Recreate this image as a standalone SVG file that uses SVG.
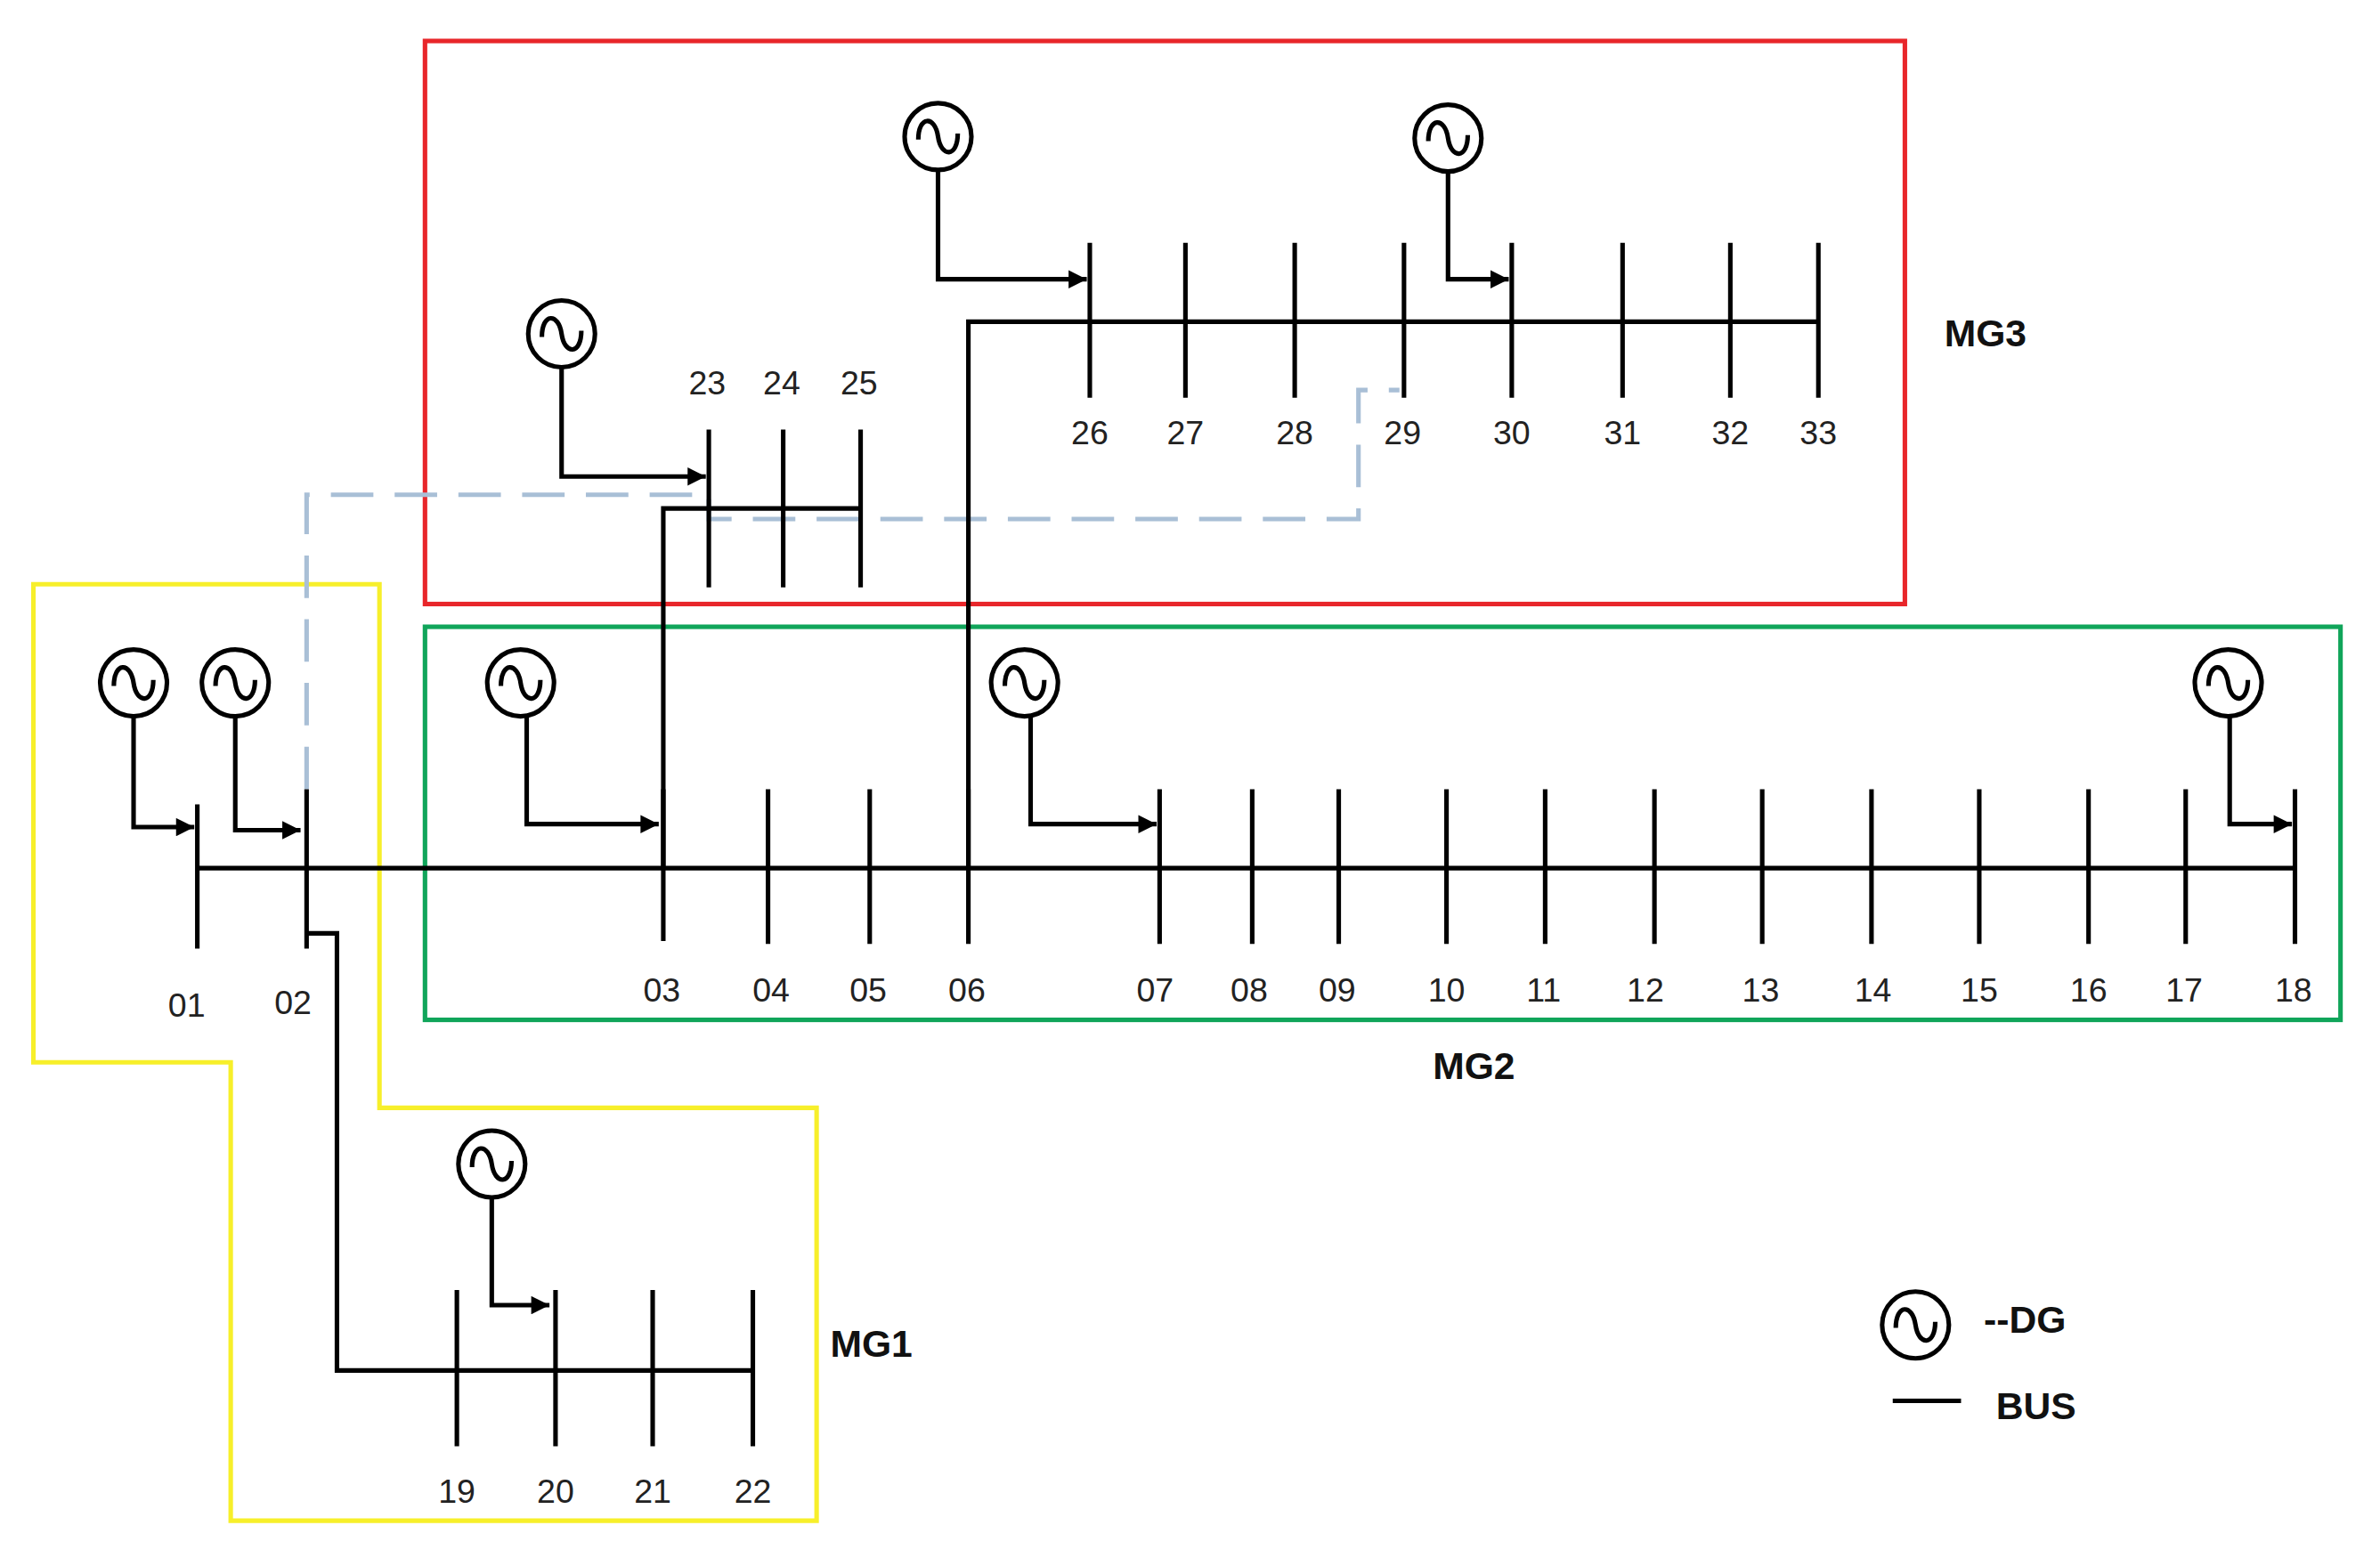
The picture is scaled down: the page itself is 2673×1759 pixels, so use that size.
<svg xmlns="http://www.w3.org/2000/svg" width="2673" height="1759" viewBox="0 0 2673 1759">
<style>
.ln{stroke:#000;stroke-width:3;fill:none}
.dg{stroke:#000;stroke-width:3;fill:#fff}
.t{font-family:"Liberation Sans",Arial,sans-serif;font-size:22px;fill:#222;text-anchor:middle}
.b{font-family:"Liberation Sans",Arial,sans-serif;font-size:25px;font-weight:bold;fill:#111}
</style>
<defs>
<marker id="ar" viewBox="0 0 10 10" refX="10" refY="5" markerWidth="16" markerHeight="12" markerUnits="userSpaceOnUse" orient="auto"><path d="M0,0L10,5L0,10z" fill="#000"/></marker>
<g id="gen"><circle r="22" class="dg"/><path d="M-13,2C-13,-14 -2,-14 0,0C2,14 13,14 13,-2" class="ln" stroke-width="2.5"/></g>
</defs>
<rect width="2673" height="1759" fill="#fff"/>
<g transform="scale(1.7047)">
<g id="regions" fill="none" stroke-width="3">
<polygon id="MG1" points="22,385 250,385 250,730 538,730 538,1002 152,1002 152,700 22,700" stroke="#f7ef2a"/>
<rect id="MG3" x="280" y="27" width="975" height="371" stroke="#e8262a"/>
<rect id="MG2" x="280" y="413" width="1262" height="259" stroke="#10a55a"/>
</g>
<g id="connectors">
<polyline points="202,520 202,326 467,326 467,342 895,342 895,257 922,257" fill="none" stroke="#a9bfd6" stroke-width="3" stroke-dasharray="28 14"/>
<path class="ln" d="M130,572H1512 M202,615H222V903H496 M437,572V335H567 M638,572V212H1198"/>
<path class="ln" d="M130,530V625 M202,520V625 M437,520V620 M506,520V622 M573,520V622 M638,520V622 M764,520V622 M825,520V622 M882,520V622 M953,520V622 M1018,520V622 M1090,520V622 M1161,520V622 M1233,520V622 M1304,520V622 M1376,520V622 M1440,520V622 M1512,520V622"/>
<path class="ln" d="M301,850V953 M366,850V953 M430,850V953 M496,850V953"/>
<path class="ln" d="M467,283V387 M516,283V387 M567,283V387"/>
<path class="ln" d="M718,160V262 M781,160V262 M853,160V262 M925,160V262 M996,160V262 M1069,160V262 M1140,160V262 M1198,160V262"/>
<g class="ln" marker-end="url(#ar)">
<polyline points="88,472 88,545 128,545"/>
<polyline points="155,472 155,547 198,547"/>
<polyline points="347,472 347,543 434,543"/>
<polyline points="679,472 679,543 762,543"/>
<polyline points="1469,472 1469,543 1510,543"/>
<polyline points="324,789 324,860 362,860"/>
<polyline points="370,242 370,314 465,314"/>
<polyline points="618,112 618,184 716,184"/>
<polyline points="954,113 954,184 994,184"/>
</g>
</g>
<g id="dgs">
<use href="#gen" x="88" y="450"/><use href="#gen" x="155" y="450"/><use href="#gen" x="343" y="450"/><use href="#gen" x="675" y="450"/><use href="#gen" x="1468" y="450"/>
<use href="#gen" x="324" y="767"/><use href="#gen" x="370" y="220"/><use href="#gen" x="618" y="90"/><use href="#gen" x="954" y="91"/>
</g>
<g id="labels">
<text class="t" x="123" y="670">01</text><text class="t" x="193" y="668">02</text><text class="t" x="436" y="660">03</text><text class="t" x="508" y="660">04</text><text class="t" x="572" y="660">05</text><text class="t" x="637" y="660">06</text><text class="t" x="761" y="660">07</text><text class="t" x="823" y="660">08</text><text class="t" x="881" y="660">09</text><text class="t" x="953" y="660">10</text><text class="t" x="1017" y="660">11</text><text class="t" x="1084" y="660">12</text><text class="t" x="1160" y="660">13</text><text class="t" x="1234" y="660">14</text><text class="t" x="1304" y="660">15</text><text class="t" x="1376" y="660">16</text><text class="t" x="1439" y="660">17</text><text class="t" x="1511" y="660">18</text>
<text class="t" x="301" y="990">19</text><text class="t" x="366" y="990">20</text><text class="t" x="430" y="990">21</text><text class="t" x="496" y="990">22</text>
<text class="t" x="466" y="260">23</text><text class="t" x="515" y="260">24</text><text class="t" x="566" y="260">25</text>
<text class="t" x="718" y="293">26</text><text class="t" x="781" y="293">27</text><text class="t" x="853" y="293">28</text><text class="t" x="924" y="293">29</text><text class="t" x="996" y="293">30</text><text class="t" x="1069" y="293">31</text><text class="t" x="1140" y="293">32</text><text class="t" x="1198" y="293">33</text>
<text class="b" x="1281" y="228">MG3</text><text class="b" x="944" y="711">MG2</text><text class="b" x="547" y="894">MG1</text>
</g>
<g id="legend">
<use href="#gen" x="1262" y="873"/>
<text class="b" x="1307" y="878" font-size="20">--DG</text>
<line x1="1247" y1="923" x2="1292" y2="923" class="ln"/>
<text class="b" x="1315" y="935" font-size="20">BUS</text>
</g>
</g>
</svg>
